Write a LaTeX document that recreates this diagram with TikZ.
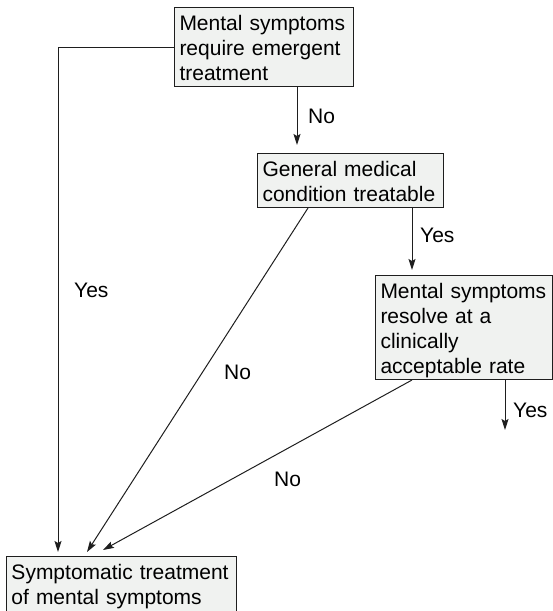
\documentclass[tikz,border=0pt]{standalone}
\usepackage{fontspec}
\setmainfont{Liberation Sans}
\usetikzlibrary{arrows.meta}
\definecolor{boxfill}{RGB}{240,242,240}
\definecolor{ink}{RGB}{30,30,30}
\newcommand\fstrut{\rule{0pt}{21.5pt}}
\newcommand\lstrut{\rule[-4.5pt]{0pt}{4.5pt}}
\begin{document}
\begin{tikzpicture}[x=1pt,y=-1pt,
  every node/.style={font=\fontsize{21}{25}\selectfont, text=black},
  box/.style={draw=ink, fill=boxfill, line width=1pt, anchor=north west, align=left, inner xsep=5pt, inner ysep=1.5pt},
  lbl/.style={anchor=base west, inner sep=0pt},
  conn/.style={draw=ink, line width=1pt},
  arr/.style={conn, -{Stealth[length=11pt,width=7pt,inset=2pt]}}]
\clip (0,0) rectangle (553,611);
\node[box, text width=169pt] (b1) at (174,7) {\fstrut Mental symptoms\\require emergent\\treatment\lstrut};
\node[box, text width=176pt] (b2) at (257,153) {\fstrut General medical\\condition treatable\lstrut};
\node[box, text width=167pt] (b3) at (375,275) {\fstrut Mental symptoms\\resolve at a\\clinically\\acceptable rate\lstrut};
\node[box, text width=220pt] (b4) at (6,556) {\fstrut Symptomatic treatment\\of mental symptoms\rule[-20pt]{0pt}{20pt}};
\coordinate (t1) at (297,145);
\coordinate (t2) at (412,270);
\coordinate (t3) at (505,430);
\coordinate (tA) at (58,552);
\coordinate (tB) at (87,552);
\coordinate (tC) at (103,550);
\draw[arr] (b1.west) -| (tA);
\draw[arr] (b1.south -| t1) -- (t1);
\draw[arr] (b2.south -| t2) -- (t2);
\draw[arr] ([xshift=51pt]b2.south west) -- (tB);
\draw[arr] (b3.south -| t3) -- (t3);
\draw[arr] ([xshift=37pt]b3.south west) -- (tC);
\node[lbl] (lno1) at (308,123) {No};
\node[lbl] (lyes1) at (74,297) {Yes};
\node[lbl] (lno2) at (224,379) {No};
\node[lbl] (lno3) at (274,486) {No};
\node[lbl] (lyes2) at (420,242) {Yes};
\node[lbl] (lyes3) at (513,417) {Yes};
\end{tikzpicture}
\end{document}
